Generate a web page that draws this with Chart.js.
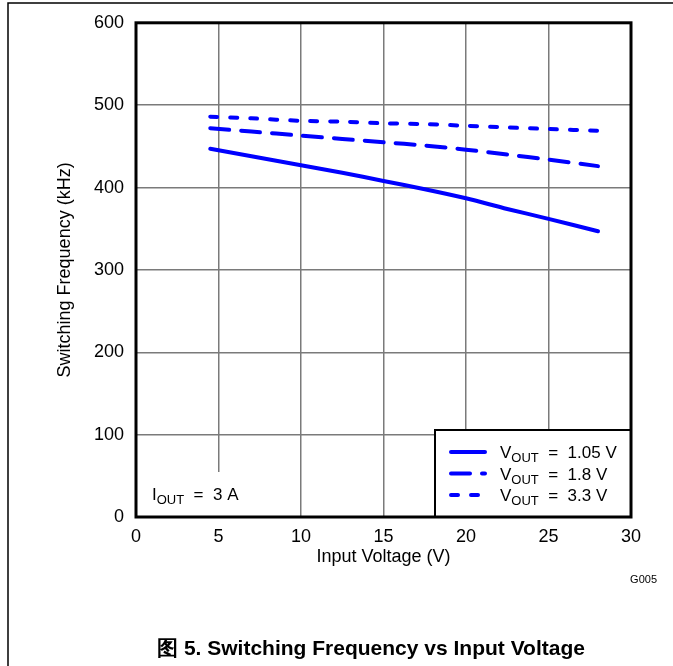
<!DOCTYPE html>
<html>
<head>
<meta charset="utf-8">
<script src="https://cdn.jsdelivr.net/npm/chart.js@4.4.1/dist/chart.umd.min.js"></script>
<style>
  html, body { margin: 0; padding: 0; background: #fff; }
  #wrap { width: 673px; height: 666px; }
</style>
</head>
<body>
<div id="wrap"><canvas id="freqChart"></canvas></div>
<script>
// Данные графика: частота переключения от входного напряжения
const inputVoltage = [4.5, 7, 10, 12.5, 15, 17.5, 20, 22.5, 25, 28];
const freq105 = [447, 438, 427, 418, 408, 398, 387, 374, 362, 347];
const freq18 = [472, 468, 463, 459, 455, 451, 446, 440, 434, 426];
const freq33 = [486, 484, 481, 480, 478, 477, 475, 473, 471, 469];
const seriesLabels = ['1.05 V', '1.8 V', '3.3 V'];
const xTicks = [0, 5, 10, 15, 20, 25, 30];
const yTicks = [0, 100, 200, 300, 400, 500, 600];

const FONT = '"Liberation Sans", Arial, sans-serif';

function toPoints(values) {
    return inputVoltage.map((v, i) => ({ x: v, y: values[i] }));
}

// Текст с подстрочным индексом: I + OUT + " = 3 A"
function drawSub(ctx, main, sub, rest, x, y) {
    ctx.textBaseline = 'alphabetic';
    ctx.textAlign = 'left';
    ctx.font = `17px ${FONT}`;
    ctx.fillText(main, x, y);
    x += ctx.measureText(main).width;
    ctx.font = `13px ${FONT}`;
    ctx.fillText(sub, x, y + 4);
    x += ctx.measureText(sub).width;
    ctx.font = `17px ${FONT}`;
    ctx.fillText(rest, x, y);
}

// Плагин: рамки, легенда, подписи
const decorPlugin = {
    id: 'decorPlugin',
    afterDraw: (chart) => {
        const ctx = chart.ctx;
        const area = chart.chartArea;
        ctx.save();

        // Белый фон под подписью тока
        ctx.fillStyle = '#ffffff';
        ctx.fillRect(area.left + 2, area.bottom - 45, 150, 44);
        ctx.fillStyle = '#000000';
        drawSub(ctx, 'I', 'OUT', '  =  3 A', 152, 500);

        // Легенда
        const lx = 435, ly = 430;
        ctx.fillStyle = '#ffffff';
        ctx.fillRect(lx, ly, area.right - lx, area.bottom - ly);
        ctx.strokeStyle = '#000000';
        ctx.lineWidth = 2;
        ctx.strokeRect(lx, ly, area.right - lx, area.bottom - ly);

        chart.data.datasets.forEach((ds, i) => {
            const yy = 452 + i * 21.5;
            ctx.beginPath();
            ctx.strokeStyle = ds.borderColor;
            ctx.lineWidth = ds.borderWidth;
            ctx.lineCap = 'round';
            ctx.setLineDash(ds.borderDash || []);
            ctx.moveTo(451, yy);
            ctx.lineTo(485, yy);
            ctx.stroke();
            ctx.setLineDash([]);
            ctx.fillStyle = '#000000';
            drawSub(ctx, 'V', 'OUT', '  =  ' + seriesLabels[i], 500, yy + 6);
        });

        // Рамка области построения
        ctx.strokeStyle = '#000000';
        ctx.lineWidth = 3;
        ctx.strokeRect(area.left, area.top, area.right - area.left, area.bottom - area.top);

        // Внешняя рамка рисунка
        ctx.lineWidth = 1.5;
        ctx.beginPath();
        ctx.moveTo(8, 666);
        ctx.lineTo(8, 3);
        ctx.lineTo(673, 3);
        ctx.stroke();

        // Код рисунка и подпись
        ctx.fillStyle = '#000000';
        ctx.font = `11px ${FONT}`;
        ctx.textAlign = 'right';
        ctx.textBaseline = 'middle';
        ctx.fillText('G005', 657, 580);

        ctx.font = `bold 21px ${FONT}`;
        ctx.textAlign = 'center';
        ctx.fillText('图 5. Switching Frequency vs Input Voltage', 371, 649);
        ctx.restore();
    }
};

const ctx = document.getElementById('freqChart').getContext('2d');
const freqChart = new Chart(ctx, {
    type: 'line',
    data: {
        datasets: [
            { label: seriesLabels[0], data: toPoints(freq105), borderColor: '#0000ff', borderWidth: 4, borderDash: [] },
            { label: seriesLabels[1], data: toPoints(freq18), borderColor: '#0000ff', borderWidth: 4, borderDash: [19, 12] },
            { label: seriesLabels[2], data: toPoints(freq33), borderColor: '#0000ff', borderWidth: 4, borderDash: [7, 13] }
        ]
    },
    options: {
        responsive: true,
        maintainAspectRatio: false,
        animation: false,
        datasets: {
            line: {
                pointRadius: 0,
                tension: 0.3,
                borderCapStyle: 'round',
                fill: false
            }
        },
        layout: {
            padding: { left: 0, top: 22, right: 42, bottom: 98 }
        },
        plugins: {
            legend: { display: false },
            tooltip: { enabled: false }
        },
        scales: {
            x: {
                type: 'linear',
                min: 0,
                max: 30,
                afterBuildTicks: (scale) => { scale.ticks = xTicks.map(v => ({ value: v })); },
                afterFit: (scale) => { scale.height = 51; },
                grid: { color: '#7a7a7a', lineWidth: 1.5, drawTicks: false },
                border: { display: false },
                ticks: { color: '#000', padding: 9, font: { size: 18, family: FONT } },
                title: {
                    display: true,
                    text: 'Input Voltage (V)',
                    color: '#000',
                    font: { size: 18, family: FONT },
                    padding: { top: 0, bottom: 0 }
                }
            },
            y: {
                type: 'linear',
                min: 0,
                max: 600,
                afterBuildTicks: (scale) => { scale.ticks = yTicks.map(v => ({ value: v })); },
                afterFit: (scale) => { scale.width = 136; },
                grid: { color: '#7a7a7a', lineWidth: 1.5, drawTicks: false },
                border: { display: false },
                ticks: { color: '#000', padding: 12, font: { size: 18, family: FONT } },
                title: {
                    display: true,
                    text: 'Switching Frequency (kHz)',
                    color: '#000',
                    font: { size: 18, family: FONT },
                    padding: { top: 54, bottom: 0 }
                }
            }
        }
    },
    plugins: [decorPlugin]
});
</script>
</body>
</html>
